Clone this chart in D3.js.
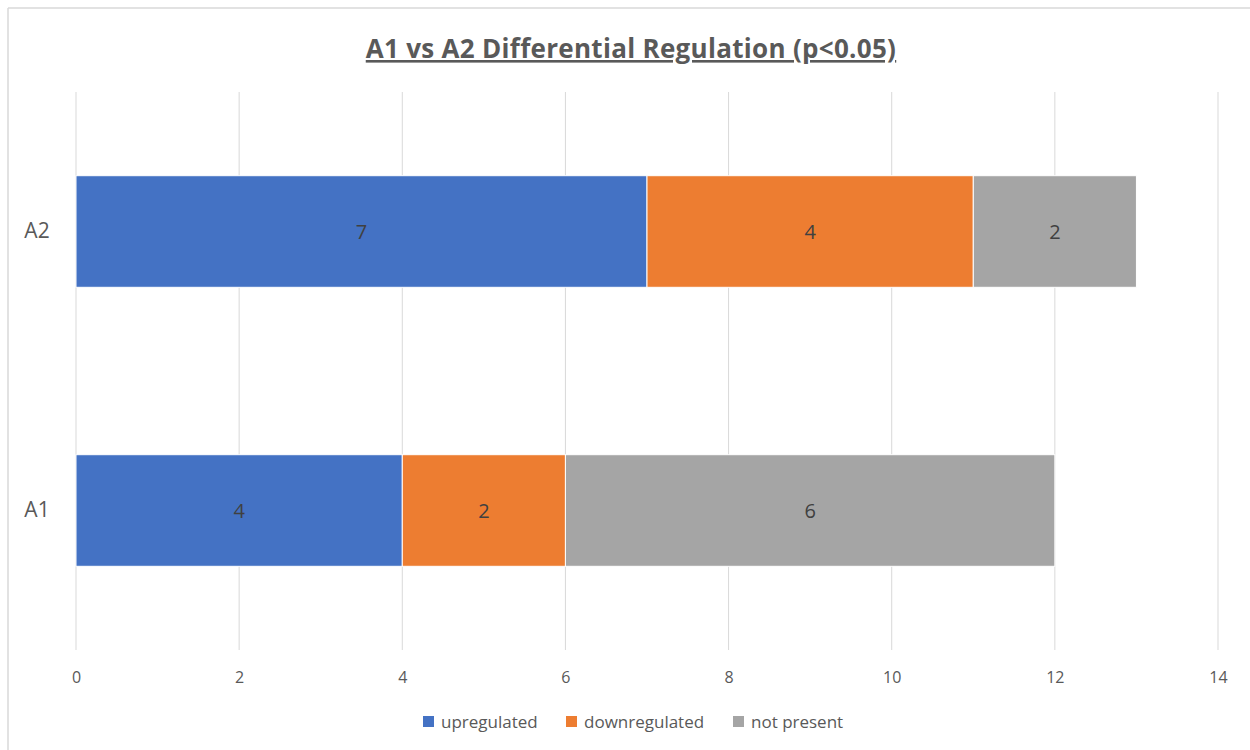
<!DOCTYPE html>
<html>
<head>
<meta charset="utf-8">
<script src="https://cdn.jsdelivr.net/npm/d3@7"></script>
<style>
  html, body { margin: 0; padding: 0; background: #ffffff; }
  svg { display: block; }
</style>
</head>
<body>
<svg id="chart" width="1250" height="750"></svg>
<script>
// Chart data
const categories = ["A2", "A1"];
const seriesNames = ["upregulated", "downregulated", "not present"];
const upregulated = [7, 4];
const downregulated = [4, 2];
const notPresent = [2, 6];
const xTicks = [0, 2, 4, 6, 8, 10, 12, 14];
const seriesColors = ["#4472c4", "#ed7d31", "#a5a5a5"];

const rows = categories.map((c, i) => ({
  category: c,
  "upregulated": upregulated[i],
  "downregulated": downregulated[i],
  "not present": notPresent[i]
}));

const svg = d3.select("#chart");
const W = 1250, H = 750;
const margin = { left: 76, top: 92 };

// Chart frame (top and left edges visible)
svg.append("line").attr("x1", 8).attr("x2", W).attr("y1", 8).attr("y2", 8)
  .attr("stroke", "#d9d9d9").attr("stroke-width", 1.5);
svg.append("line").attr("x1", 8).attr("x2", 8).attr("y1", 8).attr("y2", H)
  .attr("stroke", "#d9d9d9").attr("stroke-width", 1.5);

const x = d3.scaleLinear().domain([0, 14]).range([margin.left, 1218]);
const y = d3.scaleBand().domain(categories).range([margin.top, 650])
  .paddingInner(0.6).paddingOuter(0.3);

// Vertical gridlines
svg.append("g")
  .selectAll("line")
  .data(xTicks)
  .join("line")
  .attr("x1", d => x(d)).attr("x2", d => x(d))
  .attr("y1", margin.top).attr("y2", 650)
  .attr("stroke", "#d9d9d9").attr("stroke-width", 1);

// X axis tick labels
const xAxis = d3.axisBottom(x).tickValues(xTicks).tickSize(0).tickPadding(0);
const xg = svg.append("g").attr("transform", "translate(0,650)").call(xAxis);
xg.select(".domain").remove();
xg.selectAll("text")
  .attr("y", 33)
  .attr("dy", 0)
  .attr("fill", "#595959")
  .style("font-family", "'Open Sans', sans-serif")
  .style("font-size", "16px");

// Y axis category labels
const yAxis = d3.axisLeft(y).tickSize(0).tickPadding(0);
const yg = svg.append("g").attr("transform", `translate(${margin.left},0)`).call(yAxis);
yg.select(".domain").remove();
yg.selectAll("text")
  .attr("x", -39)
  .attr("text-anchor", "middle")
  .attr("fill", "#595959")
  .style("font-family", "'Open Sans', sans-serif")
  .style("font-size", "21px");

// Stacked bars
const stack = d3.stack().keys(seriesNames);
const layers = stack(rows);

const layerG = svg.append("g")
  .selectAll("g")
  .data(layers)
  .join("g")
  .attr("fill", (d, i) => seriesColors[i]);

layerG.selectAll("rect")
  .data(d => d.map(s => ({ s, key: d.key })))
  .join("rect")
  .attr("x", d => x(d.s[0]))
  .attr("width", d => x(d.s[1]) - x(d.s[0]))
  .attr("y", d => y(d.s.data.category))
  .attr("height", y.bandwidth())
  .attr("stroke", "#ffffff")
  .attr("stroke-width", 1);

// Data labels in segment centres
layerG.selectAll("text")
  .data(d => d.map(s => ({ s, key: d.key })))
  .join("text")
  .attr("x", d => x((d.s[0] + d.s[1]) / 2))
  .attr("y", d => y(d.s.data.category) + y.bandwidth() / 2)
  .attr("dy", "0.36em")
  .attr("text-anchor", "middle")
  .attr("fill", "#404040")
  .style("font-family", "'Open Sans', sans-serif")
  .style("font-size", "20px")
  .text(d => d.s.data[d.key]);

// Title
svg.append("text")
  .attr("x", 631)
  .attr("y", 58)
  .attr("text-anchor", "middle")
  .attr("fill", "#595959")
  .style("font-family", "'Open Sans', sans-serif")
  .style("font-size", "26px")
  .style("font-weight", "bold")
  .style("letter-spacing", "0.3px")
  .style("text-decoration", "underline")
  .text("A1 vs A2 Differential Regulation (p<0.05)");

// Legend
const legendItems = [
  { name: seriesNames[0], color: seriesColors[0], x: 423 },
  { name: seriesNames[1], color: seriesColors[1], x: 566 },
  { name: seriesNames[2], color: seriesColors[2], x: 733 }
];
const lg = svg.append("g").selectAll("g").data(legendItems).join("g")
  .attr("transform", d => `translate(${d.x},716)`);
lg.append("rect").attr("width", 11).attr("height", 11).attr("fill", d => d.color);
lg.append("text")
  .attr("x", 18).attr("y", 6).attr("dy", "0.36em")
  .attr("fill", "#595959")
  .style("font-family", "'Open Sans', sans-serif")
  .style("font-size", "17px")
  .text(d => d.name);
</script>
</body>
</html>
